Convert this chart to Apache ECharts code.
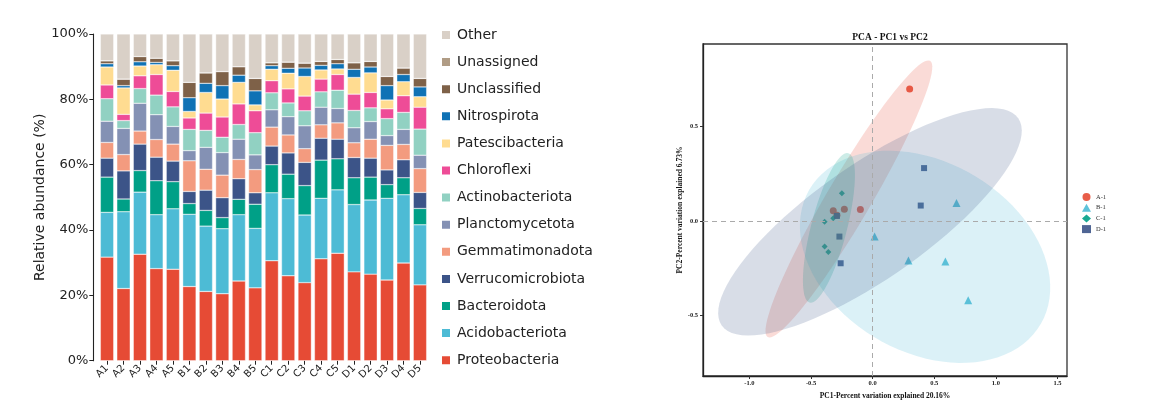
<!DOCTYPE html>
<html><head><meta charset="utf-8">
<script src="https://cdn.jsdelivr.net/npm/echarts@6/dist/echarts.min.js"></script>
<style>html,body{margin:0;padding:0;background:#fff}#c{width:1176px;height:406px}</style>
</head><body><div id="c"></div>
<script>
// ---------- Stacked bar data ----------
const samples = ['A1','A2','A3','A4','A5','B1','B2','B3','B4','B5','C1','C2','C3','C4','C5','D1','D2','D3','D4','D5'];
const taxa = ['Proteobacteria','Acidobacteriota','Bacteroidota','Verrucomicrobiota','Gemmatimonadota','Planctomycetota','Actinobacteriota','Chloroflexi','Patescibacteria','Nitrospirota','Unclassified','Unassigned','Other'];
const taxaColors = ['#E64B35','#4DBBD5','#00A087','#3C5488','#F39B7F','#8491B4','#91D1C2','#EE4C97','#FFDC91','#0F72B5','#7E6148','#B09C85','#D9D0C7'];
const Proteobacteria    = [31.7,22.1,32.6,28.2,28.0,22.7,21.2,20.5,24.4,22.3,30.6,26.0,23.9,31.2,32.9,27.2,26.5,24.7,29.9,23.2];
const Acidobacteriota   = [13.7,23.5,19.0,16.5,18.5,22.1,20.0,19.9,20.3,18.2,20.8,23.6,20.7,18.5,19.4,20.6,22.7,25.0,20.9,18.4];
const Bacteroidota      = [10.8,3.9,6.6,10.4,8.3,3.3,4.8,3.4,4.7,7.4,8.6,7.5,9.0,11.7,9.5,8.2,7.0,4.2,5.2,5.0];
const Verrucomicrobiota = [5.8,8.6,8.1,7.2,6.3,3.7,6.2,6.1,6.3,3.5,5.7,6.5,7.1,6.7,6.0,6.2,5.8,4.5,5.5,4.9];
const Gemmatimonadota   = [4.8,5.0,4.0,5.4,5.2,9.4,6.4,6.9,5.9,7.1,5.8,5.5,4.2,4.1,5.0,4.5,5.8,7.5,4.7,7.3];
const Planctomycetota   = [6.5,8.0,8.5,7.6,5.4,3.1,6.7,6.9,6.2,4.5,5.3,5.6,7.0,5.4,4.4,4.6,5.4,3.0,4.6,4.1];
const Actinobacteriota  = [6.9,2.4,4.5,6.0,6.0,6.5,5.2,4.7,4.5,6.8,5.2,4.2,4.6,4.7,5.6,5.3,4.2,5.2,5.2,8.0];
const Chloroflexi       = [4.2,1.9,3.9,6.3,4.7,3.5,5.3,6.2,6.3,6.7,3.7,4.3,4.5,3.9,4.8,5.0,4.7,3.0,5.1,6.7];
const Patescibacteria   = [5.5,8.1,3.0,3.0,6.5,2.0,6.3,5.5,6.6,1.8,3.5,4.8,6.0,2.8,1.7,5.1,6.0,2.7,4.3,3.2];
const Nitrospirota      = [1.0,0.7,1.3,0.7,1.4,4.2,2.8,4.1,2.2,4.3,1.1,1.5,2.6,1.4,1.6,2.5,1.8,4.4,2.2,3.0];
const Unclassified      = [0.9,2.0,1.6,1.3,1.5,4.7,3.2,4.3,2.6,3.8,0.9,1.9,1.5,1.2,1.3,2.0,1.7,2.8,2.0,2.6];
const Unassigned        = [0,0,0,0,0,0,0,0,0,0,0,0,0,0,0,0,0,0,0,0];
const Other             = [8.2,13.8,6.9,7.4,8.2,14.8,11.9,11.5,10.0,13.6,8.8,8.6,8.9,8.4,7.8,8.8,8.4,13.0,10.4,13.6];
const taxaValues = [Proteobacteria,Acidobacteriota,Bacteroidota,Verrucomicrobiota,Gemmatimonadota,Planctomycetota,Actinobacteriota,Chloroflexi,Patescibacteria,Nitrospirota,Unclassified,Unassigned,Other];
const yTicksPct = [0,20,40,60,80,100];

// ---------- PCA data ----------
const groups = ['A-1','B-1','C-1','D-1'];
const groupColors = ['#E64B35','#4DBBD5','#00A087','#3C5488'];
const groupSymbols = ['circle','triangle','diamond','rect'];
const groupSizes = [7,8,6,6];
const pcaA = [[0.30,0.697],[-0.32,0.053],[-0.23,0.062],[-0.10,0.060],[-0.29,0.030]];
const pcaB = [[0.016,-0.083],[0.29,-0.21],[0.59,-0.215],[0.68,0.094],[0.775,-0.42]];
const pcaC = [[-0.25,0.146],[-0.39,-0.005],[-0.32,0.014],[-0.39,-0.136],[-0.36,-0.164]];
const pcaD = [[-0.29,0.026],[-0.27,-0.083],[-0.26,-0.224],[0.417,0.279],[0.39,0.081]];
const pcaPoints = [pcaA,pcaB,pcaC,pcaD];
// ellipse: [centerX, centerY, axis1X, axis1Y, axis2X, axis2Y] in PC units
const ellipseA = [-0.193,0.116,0.659,0.730,0.154,-0.059];
const ellipseB = [0.425,-0.19,0.94,-0.354,-0.385,-0.435];
const ellipseC = [-0.355,-0.037,0.157,0.395,0.141,-0.024];
const ellipseD = [-0.022,-0.005,1.203,0.548,0.266,-0.247];
const ellipses = [ellipseA,ellipseB,ellipseC,ellipseD];
const pcaXTicks = [-1.0,-0.5,0.0,0.5,1.0,1.5];
const pcaYTicks = [-0.5,0.0,0.5];

const chart = echarts.init(document.getElementById('c'));
const series = [];
taxa.forEach((t,i)=>{
  series.push({name:t,type:'bar',stack:'s',xAxisIndex:0,yAxisIndex:0,barWidth:'81%',
    data:taxaValues[i],itemStyle:{color:taxaColors[i],borderColor:'#fff',borderWidth:0.4},
    emphasis:{disabled:true}});
});
groups.forEach((g,i)=>{
  const s = {name:g,type:'scatter',xAxisIndex:1,yAxisIndex:1,symbol:groupSymbols[i],symbolSize:groupSizes[i],
    data:pcaPoints[i],itemStyle:{color:groupColors[i],opacity:0.9},z:2};
  if(i===0){
    s.markLine={silent:true,symbol:'none',label:{show:false},
      lineStyle:{type:[5,4],color:'#aaa',width:1},data:[{xAxis:0},{yAxis:0}]};
  }
  series.push(s);
});
ellipses.forEach((e,i)=>{
  series.push({name:'ell'+groups[i],type:'custom',xAxisIndex:1,yAxisIndex:1,clip:true,z:3,silent:true,
    data:[e],encode:{x:0,y:1},
    renderItem:(params,api)=>{
      const cx=api.value(0),cy=api.value(1),ax=api.value(2),ay=api.value(3),bx=api.value(4),by=api.value(5);
      const pts=[];
      for(let k=0;k<=90;k++){const t=k/90*2*Math.PI;
        pts.push(api.coord([cx+ax*Math.cos(t)+bx*Math.sin(t), cy+ay*Math.cos(t)+by*Math.sin(t)]));}
      return {type:'polygon',shape:{points:pts},style:{fill:groupColors[i],opacity:0.2}};
    }});
});

const serif = 'Liberation Serif';
chart.setOption({
  animation:false,
  title:{text:'PCA - PC1 vs PC2',left:885,top:28,textAlign:'center',
    textStyle:{fontFamily:serif,fontWeight:'bold',fontSize:9.5,color:'#111'}},
  legend:[
    {data:taxa.slice().reverse(),orient:'vertical',left:440,top:27,height:380,padding:0,itemWidth:10,itemHeight:10,itemGap:11.1,
     icon:'rect',textStyle:{fontFamily:'DejaVu Sans',fontSize:14,lineHeight:16,color:'#222',padding:[0,0,0,1]},selectedMode:false},
    {data:groups,orient:'vertical',left:1082,top:193,padding:0,itemWidth:9,itemHeight:8,itemGap:2.7,
     textStyle:{fontFamily:serif,fontSize:6.5,color:'#333'},selectedMode:false}
  ],
  grid:[
    {left:98.8,top:34,width:329.4,height:326.7},
    {left:703,top:44,width:364,height:332,show:true,borderColor:'#333',borderWidth:1.3,backgroundColor:'transparent'}
  ],
  xAxis:[
    {type:'category',gridIndex:0,data:samples,axisLine:{show:false},
     axisTick:{show:true,alignWithLabel:true,length:4,lineStyle:{color:'#222'}},
     axisLabel:{interval:0,rotate:45,fontFamily:'DejaVu Sans',fontSize:10,color:'#222',margin:6}},
    {type:'value',gridIndex:1,min:-1.377,max:1.577,splitNumber:6,
     axisLine:{show:true,onZero:false,lineStyle:{color:'#222',width:1.3}},
     axisTick:{show:true,length:3,lineStyle:{color:'#333'}},splitLine:{show:false},
     axisLabel:{showMinLabel:false,showMaxLabel:false,fontFamily:serif,fontWeight:'bold',fontSize:6.5,color:'#222',margin:4,
       formatter:v=>pcaXTicks.some(t=>Math.abs(t-v)<1e-6)?v.toFixed(1):''},
     name:'PC1-Percent variation explained 20.16%',nameLocation:'middle',nameGap:12,
     nameTextStyle:{fontFamily:serif,fontWeight:'bold',fontSize:7.5,color:'#111'}}
  ],
  yAxis:[
    {type:'value',gridIndex:0,min:0,max:100,interval:20,offset:5.5,
     axisLine:{show:true,lineStyle:{color:'#222',width:1.1}},
     axisTick:{show:true,length:4,lineStyle:{color:'#222'}},splitLine:{show:false},
     axisLabel:{formatter:v=>yTicksPct.includes(v)?v+'%':'',fontFamily:'DejaVu Sans',fontSize:13,color:'#222',margin:5},
     name:'Relative abundance (%)',nameLocation:'middle',nameGap:45,
     nameTextStyle:{fontFamily:'DejaVu Sans',fontSize:14,color:'#222'}},
    {type:'value',gridIndex:1,min:-0.82,max:0.935,splitNumber:3,
     axisLine:{show:true,onZero:false,lineStyle:{color:'#222',width:1.3}},
     axisTick:{show:true,length:3,lineStyle:{color:'#333'}},splitLine:{show:false},
     axisLabel:{showMinLabel:false,showMaxLabel:false,fontFamily:serif,fontWeight:'bold',fontSize:6.5,color:'#222',margin:5,
       formatter:v=>pcaYTicks.some(t=>Math.abs(t-v)<1e-6)?v.toFixed(1):''},
     name:'PC2-Percent variation explained 6.73%',nameLocation:'middle',nameGap:16,
     nameTextStyle:{fontFamily:serif,fontWeight:'bold',fontSize:7.5,color:'#111'}}
  ],
  series:series
});
</script></body></html>
